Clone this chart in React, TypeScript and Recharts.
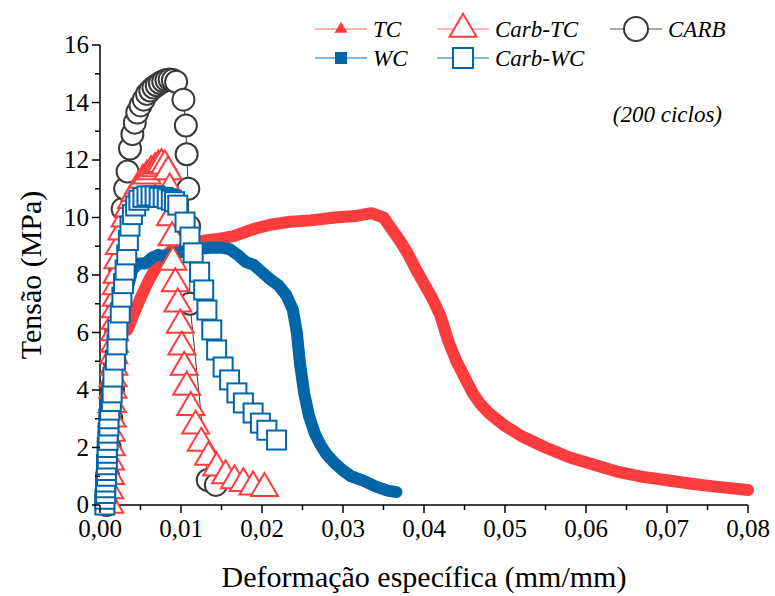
import React from 'react'
import { LineChart, Line, XAxis, YAxis } from 'recharts'

const FONT = "'Liberation Serif', 'Tinos', 'DejaVu Serif', 'Noto Serif', serif"
const RED = '#fd3c3e'
const BLUE = '#0066a8'
const GRAY = '#3a3a3a'

// TC (filled triangles, dense -> thick band)
const tcStrain = [0.0012, 0.0014, 0.0017, 0.0021, 0.0027, 0.0034, 0.0041, 0.005, 0.006, 0.007, 0.008, 0.009, 0.01, 0.0115, 0.013, 0.0145, 0.0165, 0.019, 0.021, 0.0235, 0.026, 0.029, 0.0315, 0.0335, 0.035, 0.036, 0.037, 0.038, 0.039, 0.04, 0.041, 0.042, 0.043, 0.044, 0.045, 0.046, 0.047, 0.048, 0.05, 0.052, 0.055, 0.058, 0.061, 0.064, 0.067, 0.07, 0.073, 0.076, 0.08]
const tcStress = [0, 1.5, 3, 4.3, 5.4, 6.1, 6.6, 7.2, 7.8, 8.3, 8.65, 8.9, 9.05, 9.15, 9.2, 9.25, 9.35, 9.6, 9.75, 9.85, 9.9, 10.0, 10.05, 10.15, 10.0, 9.6, 9.2, 8.75, 8.2, 7.7, 7.2, 6.6, 5.7, 5.0, 4.45, 3.9, 3.5, 3.2, 2.75, 2.4, 2.0, 1.65, 1.4, 1.15, 0.98, 0.86, 0.74, 0.64, 0.52]
const tcSparse = 6 // first points are sparse (steep rise)

// WC (filled squares, dense -> thick band)
const wcStrain = [0.001, 0.0015, 0.002, 0.0027, 0.0034, 0.004, 0.0048, 0.0056, 0.0064, 0.0072, 0.008, 0.009, 0.01, 0.011, 0.012, 0.0135, 0.015, 0.016, 0.017, 0.018, 0.019, 0.02, 0.021, 0.022, 0.023, 0.0238, 0.0243, 0.0247, 0.0252, 0.0258, 0.0265, 0.0272, 0.028, 0.029, 0.03, 0.031, 0.0325, 0.034, 0.0355, 0.0366]
const wcStress = [0, 2, 4, 6, 7.5, 8.2, 8.4, 8.4, 8.6, 8.7, 8.65, 8.75, 8.8, 8.85, 8.9, 8.95, 8.95, 8.9, 8.7, 8.45, 8.35, 8.1, 7.85, 7.65, 7.3, 6.8, 6.0, 4.9, 3.9, 3.1, 2.5, 2.1, 1.75, 1.45, 1.2, 1.0, 0.85, 0.65, 0.5, 0.45]
const wcSparse = 5

// Carb-TC (open triangles)
const ctcStrain = [0.0012, 0.0012, 0.0013, 0.0013, 0.0014, 0.0014, 0.0015, 0.0015, 0.0016, 0.0016, 0.0017, 0.0017, 0.0018, 0.0018, 0.0019, 0.0019, 0.002, 0.002, 0.0021, 0.0022, 0.0024, 0.0027, 0.0031, 0.0035, 0.0039, 0.0043, 0.0048, 0.0053, 0.0058, 0.0063, 0.0068, 0.0072, 0.0076, 0.008, 0.0084, 0.0086, 0.0087, 0.0089, 0.009, 0.0093, 0.0096, 0.0099, 0.0101, 0.0104, 0.0107, 0.0112, 0.0118, 0.0125, 0.0134, 0.0144, 0.0155, 0.0166, 0.0177, 0.0189, 0.0203]
const ctcStress = [0, 0.5, 1, 1.5, 2, 2.5, 3, 3.5, 4, 4.4, 4.8, 5.2, 5.6, 6, 6.4, 6.8, 7.2, 7.6, 8.0, 8.5, 9.0, 9.5, 9.95, 10.3, 10.6, 10.85, 11.1, 11.3, 11.45, 11.6, 11.7, 11.8, 11.85, 11.8, 11.6, 11.0, 10.0, 9.3, 8.45, 7.7, 7.0, 6.26, 5.5, 4.8, 4.1, 3.4, 2.75, 2.15, 1.67, 1.29, 1.02, 0.85, 0.75, 0.63, 0.58]

// Carb-WC (open squares)
const cwcStrain = [0.0006, 0.0006, 0.0007, 0.0007, 0.0007, 0.0008, 0.0008, 0.0008, 0.0009, 0.0009, 0.0009, 0.001, 0.001, 0.0011, 0.0011, 0.0012, 0.0014, 0.0015, 0.0016, 0.0019, 0.0021, 0.0022, 0.0025, 0.0027, 0.0029, 0.0031, 0.0033, 0.0035, 0.0037, 0.004, 0.0044, 0.0048, 0.0053, 0.0058, 0.0063, 0.0068, 0.0073, 0.0078, 0.0083, 0.0088, 0.0092, 0.0096, 0.0105, 0.0111, 0.0115, 0.0123, 0.0128, 0.0132, 0.0138, 0.0144, 0.0152, 0.016, 0.0169, 0.0177, 0.0189, 0.0198, 0.0206, 0.0218]
const cwcStress = [0, 0.2, 0.4, 0.6, 0.8, 1.0, 1.2, 1.4, 1.6, 1.8, 2.0, 2.25, 2.5, 2.75, 3.0, 3.3, 3.6, 3.9, 4.45, 5.04, 5.57, 6.09, 6.68, 7.23, 7.7, 8.17, 8.7, 9.2, 9.7, 10.1, 10.4, 10.6, 10.7, 10.75, 10.75, 10.75, 10.7, 10.7, 10.65, 10.6, 10.55, 10.43, 9.84, 9.32, 8.77, 8.1, 7.48, 6.78, 6.09, 5.39, 4.8, 4.35, 3.9, 3.55, 3.2, 2.85, 2.6, 2.26]

// CARB (open circles)
const carbStrain = [0.0008, 0.001, 0.0012, 0.0014, 0.0016, 0.0018, 0.002, 0.0022, 0.0025, 0.0028, 0.0031, 0.0034, 0.0037, 0.004, 0.0043, 0.0046, 0.005, 0.0054, 0.0058, 0.0062, 0.0066, 0.007, 0.0074, 0.0078, 0.0082, 0.0086, 0.009, 0.0094, 0.0103, 0.0106, 0.0107, 0.0109, 0.011, 0.0111, 0.0133, 0.0143]
const carbStress = [0, 1, 2, 3, 4, 5, 6, 7, 8.2, 10.3, 11.0, 11.6, 12.4, 12.9, 13.3, 13.65, 13.9, 14.1, 14.3, 14.42, 14.52, 14.6, 14.68, 14.74, 14.78, 14.8, 14.78, 14.72, 14.1, 13.2, 12.2, 11.0, 9.7, 7.0, 0.87, 0.7]

const xTicks = [0, 0.005, 0.01, 0.015, 0.02, 0.025, 0.03, 0.035, 0.04, 0.045, 0.05, 0.055, 0.06, 0.065, 0.07, 0.075, 0.08]
const yTicks = [0, 1, 2, 3, 4, 5, 6, 7, 8, 9, 10, 11, 12, 13, 14, 15, 16]

const zip = (xs: number[], ys: number[]) => xs.map((x, i) => ({ x, y: ys[i] }))
const tcData = zip(tcStrain, tcStress)
const wcData = zip(wcStrain, wcStress)

const triPath = (cx: number, cy: number, w: number, h: number) =>
  `M${cx},${cy - (2 * h) / 3} L${cx + w / 2},${cy + h / 3} L${cx - w / 2},${cy + h / 3} Z`

const openTri = (p: any) => (
  <path key={`ctc-${p.index}`} d={triPath(p.cx, p.cy, 27, 23)} fill="#fff" stroke={RED} strokeWidth={2} />
)
const openSq = (p: any) => (
  <rect key={`cwc-${p.index}`} x={p.cx - 9.5} y={p.cy - 9.5} width={19} height={19} fill="#fff" stroke={BLUE} strokeWidth={2} />
)
const openCirc = (p: any) => (
  <circle key={`carb-${p.index}`} cx={p.cx} cy={p.cy} r={11} fill="#fff" stroke={GRAY} strokeWidth={2} />
)
const smallTri = (p: any) => <path key={`tc-${p.index}`} d={triPath(p.cx, p.cy, 9, 8)} fill={RED} />
const smallSq = (p: any) => <rect key={`wc-${p.index}`} x={p.cx - 4} y={p.cy - 4} width={8} height={8} fill={BLUE} />

const textStyle = { fontFamily: FONT }

const XTick = (props: any) => {
  const { x, y, payload } = props
  const major = Math.round(payload.value * 1000) % 10 === 0
  return (
    <g>
      <line x1={x} x2={x} y1={y} y2={y + (major ? 8 : 5)} stroke="#000" strokeWidth={1.5} />
      {major && (
        <text x={x} y={y + 32} textAnchor="middle" style={textStyle} fontSize={25} fill="#000">
          {payload.value.toFixed(2).replace('.', ',')}
        </text>
      )}
    </g>
  )
}

const YTick = (props: any) => {
  const { x, y, payload } = props
  const major = payload.value % 2 === 0
  return (
    <g>
      <line x1={x} x2={x - (major ? 8 : 5)} y1={y} y2={y} stroke="#000" strokeWidth={1.5} />
      {major && (
        <text x={x - 11} y={y + 8} textAnchor="end" style={textStyle} fontSize={25} fill="#000">
          {payload.value}
        </text>
      )}
    </g>
  )
}

const legendRows = [
  [
    { name: 'TC', color: RED, line: '#ff9c9c', mark: 'tri-fill' },
    { name: 'Carb-TC', color: RED, line: '#ff9c9c', mark: 'tri-open' },
    { name: 'CARB', color: GRAY, line: '#8a8a8a', mark: 'circ' },
  ],
  [
    { name: 'WC', color: BLUE, line: '#5b9fd0', mark: 'sq-fill' },
    { name: 'Carb-WC', color: BLUE, line: '#5b9fd0', mark: 'sq-open' },
  ],
]
const legendCols = [315, 437, 610]

function Marker({ mark, color, cx, cy }: any) {
  if (mark === 'tri-fill') return <path d={triPath(cx, cy, 13, 11)} fill={color} />
  if (mark === 'tri-open') return <path d={triPath(cx, cy, 27, 23)} fill="#fff" stroke={color} strokeWidth={2} />
  if (mark === 'sq-fill') return <rect x={cx - 6} y={cy - 6} width={12} height={12} fill={color} />
  if (mark === 'sq-open') return <rect x={cx - 10} y={cy - 10} width={20} height={20} fill="#fff" stroke={color} strokeWidth={2} />
  return <circle cx={cx} cy={cy} r={12} fill="#fff" stroke={color} strokeWidth={2} />
}

export default function App() {
  return (
    <div style={{ position: 'absolute', left: 0, top: 0, width: 775, height: 596, background: '#fff', fontFamily: FONT }}>
      <LineChart width={775} height={596} margin={{ top: 45, right: 27, bottom: 0, left: 0 }}>
        <XAxis
          type="number"
          dataKey="x"
          domain={[0, 0.08]}
          ticks={xTicks}
          interval={0}
          tickSize={0}
          tickMargin={0}
          tickLine={false}
          tick={<XTick />}
          height={91}
          axisLine={{ stroke: '#000', strokeWidth: 1.5 }}
          label={{ value: 'Deformação específica (mm/mm)', position: 'insideBottom', offset: 9, style: { fontFamily: FONT, fontSize: 30, fill: '#000' } }}
        />
        <YAxis
          type="number"
          dataKey="y"
          domain={[0, 16]}
          ticks={yTicks}
          interval={0}
          tickSize={0}
          tickMargin={0}
          tickLine={false}
          tick={<YTick />}
          width={100}
          axisLine={{ stroke: '#000', strokeWidth: 1.5 }}
          label={{ value: 'Tensão (MPa)', angle: -90, position: 'center', dx: -20, style: { fontFamily: FONT, fontSize: 30, fill: '#000' } }}
        />
        <Line data={tcData.slice(0, tcSparse)} dataKey="y" type="linear" stroke={RED} strokeWidth={2} dot={smallTri} isAnimationActive={false} />
        <Line data={tcData.slice(tcSparse - 1)} dataKey="y" type="linear" stroke={RED} strokeWidth={12} strokeLinejoin="round" strokeLinecap="round" dot={false} isAnimationActive={false} />
        <Line data={wcData.slice(0, wcSparse)} dataKey="y" type="linear" stroke={BLUE} strokeWidth={3} dot={smallSq} isAnimationActive={false} />
        <Line data={wcData.slice(wcSparse - 1)} dataKey="y" type="linear" stroke={BLUE} strokeWidth={12} strokeLinejoin="round" strokeLinecap="round" dot={false} isAnimationActive={false} />
        <Line data={zip(carbStrain, carbStress)} dataKey="y" type="linear" stroke={GRAY} strokeWidth={1} dot={openCirc} isAnimationActive={false} />
        <Line data={zip(ctcStrain, ctcStress)} dataKey="y" type="linear" stroke={RED} strokeWidth={1} dot={openTri} isAnimationActive={false} />
        <Line data={zip(cwcStrain, cwcStress)} dataKey="y" type="linear" stroke={BLUE} strokeWidth={1} dot={openSq} isAnimationActive={false} />
      </LineChart>
      <svg width={775} height={596} style={{ position: 'absolute', left: 0, top: 0, pointerEvents: 'none' }}>
        {legendRows.map((row, r) =>
          row.map((it, c) => {
            const x0 = legendCols[c]
            const cy = 29 + r * 29
            return (
              <g key={it.name}>
                <line x1={x0} x2={x0 + 52} y1={cy} y2={cy} stroke={it.line} strokeWidth={1.5} />
                <Marker mark={it.mark} color={it.color} cx={x0 + 26} cy={cy} />
                <text x={x0 + 58} y={cy + 8} style={textStyle} fontStyle="italic" fontSize={23} fill="#000">
                  {it.name}
                </text>
              </g>
            )
          })
        )}
        <text x={722} y={122} textAnchor="end" style={textStyle} fontStyle="italic" fontSize={23} fill="#000">
          (200 ciclos)
        </text>
      </svg>
    </div>
  )
}
